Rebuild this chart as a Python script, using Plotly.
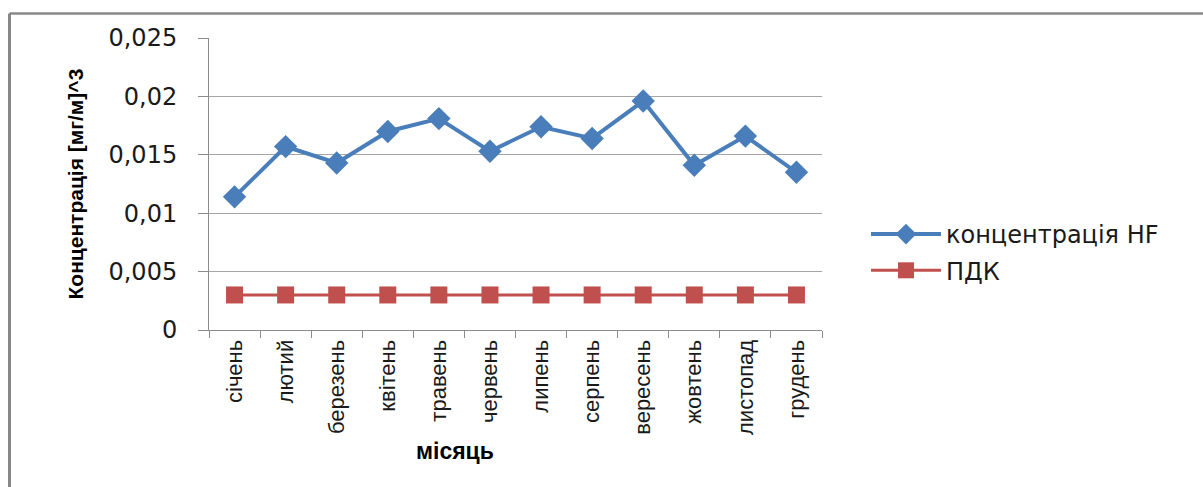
import plotly.graph_objects as go

months = ["січень", "лютий", "березень", "квітень", "травень", "червень",
          "липень", "серпень", "вересень", "жовтень", "листопад", "грудень"]
hf_conc = [0.0114, 0.0157, 0.0143, 0.0170, 0.0181, 0.0153,
           0.0174, 0.0164, 0.0196, 0.0141, 0.0166, 0.0135]
pdk = [0.003] * 12
y_ticks = [0, 0.005, 0.01, 0.015, 0.02, 0.025]
y_ticktext = ["0", "0,005", "0,01", "0,015", "0,02", "0,025"]

L, R, T, B = 209, 822, 38, 330
W, H = 1203, 487
pw, ph = R - L, B - T

def px(x):
    return (x - L) / pw

def py(y):
    return (B - y) / ph

fig = go.Figure()
fig.add_trace(go.Scatter(
    x=months, y=hf_conc, name="концентрація HF", mode="lines+markers",
    line=dict(color="#4A7EBB", width=4),
    marker=dict(symbol="diamond", size=18, color="#4A7EBB"),
    legendgroup="a"))
fig.add_trace(go.Scatter(
    x=months, y=pdk, name="ПДК", mode="lines+markers",
    line=dict(color="#C0504D", width=3),
    marker=dict(symbol="square", size=17, color="#C0504D"),
    legendgroup="b"))

fig.update_layout(
    width=W, height=H,
    margin=dict(l=L, r=W - R, t=T, b=H - B, pad=0),
    paper_bgcolor="white", plot_bgcolor="white",
    showlegend=True,
    legend=dict(x=px(866), y=py(212), xanchor="left", yanchor="top",
                font=dict(family="DejaVu Sans", size=24, color="#1a1a1a"),
                itemwidth=70,
                traceorder="grouped", tracegroupgap=2,
                bgcolor="rgba(0,0,0,0)"),
    xaxis=dict(type="category", showline=True, linecolor="#8c8c8c", linewidth=1,
               ticks="outside", ticklen=7, tickcolor="#8c8c8c",
               tickson="boundaries", showgrid=False, tickangle=-90,
               tickfont=dict(family="Liberation Sans", size=22, color="#1a1a1a"),
               range=[-0.5, 11.5]),
    yaxis=dict(range=[0, 0.025], tickvals=y_ticks, ticktext=y_ticktext,
               showline=True, linecolor="#8c8c8c", linewidth=1,
               ticks="outside", ticklen=10, tickcolor="#8c8c8c",
               showgrid=True, gridcolor="#a6a6a6", gridwidth=1,
               zeroline=False, ticklabelstandoff=16,
               tickfont=dict(family="DejaVu Sans", size=24, color="#1a1a1a")),
    annotations=[
        dict(text="<b>Концентрація [мг/м]^3</b>", x=px(61), y=py(184),
             xref="paper", yref="paper", showarrow=False, textangle=-90,
             font=dict(family="Liberation Sans", size=21, color="#000000")),
        dict(text="<b>місяць</b>", x=px(455), y=py(466),
             xref="paper", yref="paper", showarrow=False,
             font=dict(family="Liberation Sans", size=23, color="#000000")),
    ],
    shapes=[
        dict(type="line", xref="paper", yref="paper",
             x0=px(9.5), x1=px(1203), y0=py(13.5), y1=py(13.5),
             line=dict(color="#888888", width=2.5)),
        dict(type="line", xref="paper", yref="paper",
             x0=px(9.5), x1=px(9.5), y0=py(13.5), y1=py(487),
             line=dict(color="#888888", width=3)),
    ],
)

fig.write_html("out.html")
